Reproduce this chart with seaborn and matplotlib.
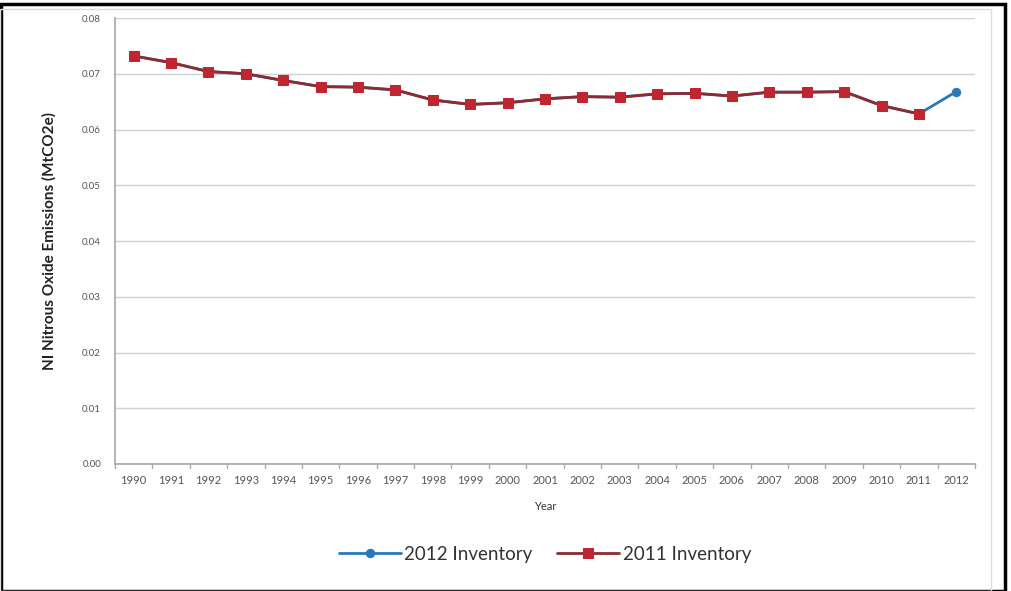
import matplotlib
matplotlib.use("Agg")
import matplotlib.pyplot as plt
import seaborn as sns
import pandas as pd
from matplotlib.patches import Rectangle

years = [str(y) for y in range(1990, 2013)]
inventory_2012 = [0.0732, 0.0720, 0.0704, 0.0700, 0.0688, 0.0677, 0.0676, 0.0671,
                  0.0653, 0.0645, 0.0648, 0.0655, 0.0659, 0.0658, 0.0664, 0.0665,
                  0.0660, 0.0667, 0.0667, 0.0668, 0.0643, 0.0628, 0.0668]
inventory_2011 = inventory_2012[:-1]
y_ticks = [0.00, 0.01, 0.02, 0.03, 0.04, 0.05, 0.06, 0.07, 0.08]

blue = "#2b78b8"
red = "#c0262f"

sns.set_theme(style="white")
plt.rcParams["font.family"] = ["Lato", "DejaVu Sans"]

fig = plt.figure(figsize=(10.11, 5.91), dpi=100)
ax = fig.add_axes([0.1137, 0.2149, 0.8507, 0.7546])

df12 = pd.DataFrame({"Year": years, "value": inventory_2012})
df11 = pd.DataFrame({"Year": years[:-1], "value": inventory_2011})

sns.lineplot(data=df12, x="Year", y="value", ax=ax, sort=False, color=blue,
             marker="o", markersize=6, linewidth=2, markeredgecolor=blue,
             label="2012 Inventory")
sns.lineplot(data=df11, x="Year", y="value", ax=ax, sort=False, color=red,
             marker="s", markersize=7, linewidth=2, markeredgecolor=red,
             label="2011 Inventory")
# darker line core between red markers
ax.lines[-1].set_color("#8e2a30")
ax.lines[-1].set_markerfacecolor(red)
ax.lines[-1].set_markeredgecolor(red)

ax.set_xlim(-0.5, len(years) - 0.5)
ax.set_ylim(0, 0.08)
ax.set_yticks(y_ticks)
ax.set_yticklabels([f"{v:.2f}" for v in y_ticks], fontsize=7, color="#555555")
ax.tick_params(axis="x", labelsize=8, labelcolor="#555555", length=0, pad=8)
ax.tick_params(axis="y", length=4, color="#aaaaaa", pad=6)
ax.yaxis.grid(True, color="#d0d0d0", linewidth=1)
ax.set_axisbelow(True)

# Excel style ticks between categories
for b in range(len(years) + 1):
    ax.plot([b - 0.5, b - 0.5], [0, -0.0008], color="#aaaaaa", lw=1,
            clip_on=False, transform=ax.transData)

for side in ["top", "right"]:
    ax.spines[side].set_visible(False)
ax.spines["left"].set_color("#aaaaaa")
ax.spines["bottom"].set_color("#aaaaaa")

ax.set_xlabel("Year", fontsize=8, color="#333333", labelpad=11)
ax.set_ylabel("NI Nitrous Oxide Emissions (MtCO2e)", fontsize=11,
              fontweight="bold", color="#222222", labelpad=18)

ax.legend(loc="upper center", bbox_to_anchor=(0.5, -0.145), ncol=2,
          frameon=False, fontsize=13.5, handlelength=3.3, columnspacing=1.3,
          handletextpad=0.2, labelcolor="#333333")

fig.patches.append(Rectangle((0.001, 0.0), 0.993, 0.993, transform=fig.transFigure,
                             fill=False, edgecolor="black", linewidth=2.5))
fig.patches.append(Rectangle((0.0, 0.0), 0.98, 0.985, transform=fig.transFigure,
                             fill=False, edgecolor="#dddddd", linewidth=1))

fig.savefig("out.png", dpi=100)
